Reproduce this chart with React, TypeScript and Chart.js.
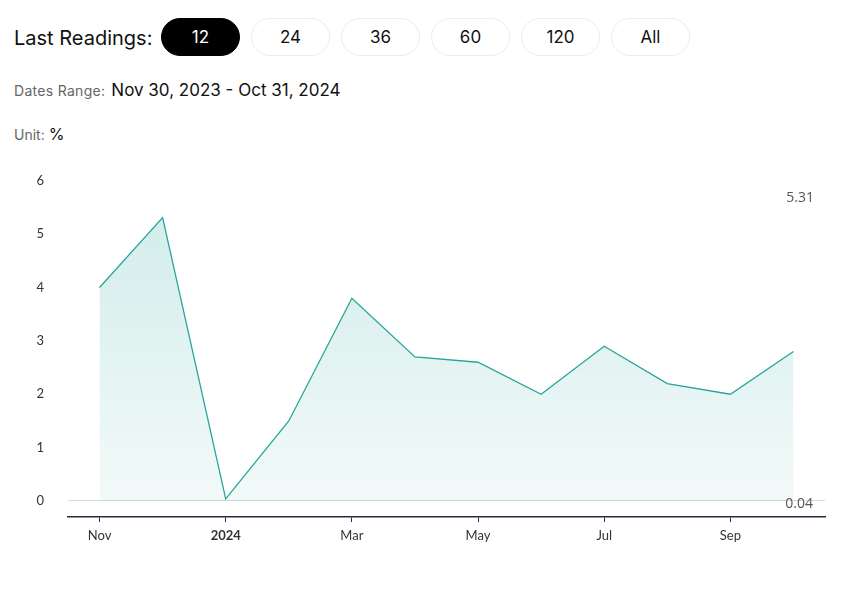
import React, { useEffect, useRef } from "react";
import { Chart, registerables } from "chart.js";

Chart.register(...registerables);

const categories = ["Nov", "Dec", "2024", "Feb", "Mar", "Apr", "May", "Jun", "Jul", "Aug", "Sep", "Oct"];
const values = [4.0, 5.31, 0.04, 1.5, 3.8, 2.7, 2.6, 2.0, 2.9, 2.2, 2.0, 2.8];
const yTicks = [0, 1, 2, 3, 4, 5, 6];
const buttons = ["12", "24", "36", "60", "120", "All"];
const maxLabel = "5.31";
const minLabel = "0.04";

const TEAL = "rgb(38,166,154)";

const extremesPlugin = {
  id: "extremes",
  afterDatasetsDraw(chart: any) {
    const { ctx, chartArea, scales } = chart;
    const y = scales.y;
    const minVal = Math.min(...values);
    ctx.save();
    ctx.font = "14px 'Open Sans'";
    ctx.fillStyle = "#555";
    ctx.textAlign = "right";
    ctx.textBaseline = "middle";
    ctx.fillText(maxLabel, chartArea.right - 11, chartArea.top + 17);
    ctx.fillText(minLabel, chartArea.right - 12, y.getPixelForValue(minVal) + 5);
    ctx.restore();
  },
};

export default function App() {
  const ref = useRef<HTMLCanvasElement>(null);

  useEffect(() => {
    if (!ref.current) return;
    const chart = new Chart(ref.current, {
      type: "line",
      data: {
        labels: categories,
        datasets: [
          {
            data: values,
            borderColor: TEAL,
            borderWidth: 1.3,
            pointRadius: 0,
            tension: 0,
            fill: "origin",
            backgroundColor: (c: any) => {
              const area = c.chart.chartArea;
              if (!area) return "rgba(38,166,154,0.15)";
              const g = c.chart.ctx.createLinearGradient(0, area.top, 0, area.bottom);
              g.addColorStop(0, "rgba(38,166,154,0.22)");
              g.addColorStop(1, "rgba(38,166,154,0.05)");
              return g;
            },
          },
        ],
      },
      options: {
        responsive: false,
        animation: false,
        layout: { padding: { top: 0, right: 13, left: 0, bottom: 0 } },
        plugins: { legend: { display: false }, tooltip: { enabled: false } },
        scales: {
          x: {
            type: "category",
            offset: true,
            border: { display: true, color: "#2b2b40", width: 1.5 },
            grid: {
              drawOnChartArea: false,
              drawTicks: true,
              tickLength: 5,
              tickColor: (c: any) => (c.index % 2 === 0 ? "#2b2b40" : "rgba(0,0,0,0)"),
            },
            ticks: {
              autoSkip: false,
              maxRotation: 0,
              padding: 6,
              color: "#333",
              font: (c: any) =>
                c.tick && c.tick.label === "2024"
                  ? { family: "Lato", size: 13, weight: "bold" }
                  : { family: "Lato", size: 13 },
              callback: (_v: any, i: number) => (i % 2 === 0 ? categories[i] : ""),
            },
            afterFit: (axis: any) => {
              axis.height = 48;
            },
          },
          y: {
            min: -0.3,
            max: 6,
            border: { display: false },
            grid: {
              drawTicks: false,
              color: (c: any) => (c.tick && c.tick.value === 0 ? "#d9d9d9" : "rgba(0,0,0,0)"),
            },
            ticks: {
              padding: 24,
              color: "#333",
              font: { family: "Lato", size: 13 },
            },
            afterBuildTicks: (axis: any) => {
              axis.ticks = yTicks.map((v) => ({ value: v }));
            },
            afterFit: (axis: any) => {
              axis.width = 60;
            },
          },
        },
      },
      plugins: [extremesPlugin],
    } as any);
    return () => chart.destroy();
  }, []);

  const font = "Inter, 'Noto Sans', sans-serif";

  return (
    <div style={{ position: "relative", width: 834, height: 580, fontFamily: font }}>
      <div style={{ position: "absolute", left: 6, top: 15, fontSize: 20, color: "#111", lineHeight: "30px" }}>
        Last Readings:
      </div>
      {buttons.map((b, i) => (
        <div
          key={b}
          style={{
            position: "absolute",
            left: 153 + i * 90,
            top: 10,
            width: 79,
            height: 38,
            boxSizing: "border-box",
            borderRadius: 19,
            border: i === 0 ? "1px solid #000" : "1px solid #ececec",
            background: i === 0 ? "#000" : "#fff",
            color: i === 0 ? "#fff" : "#111",
            fontSize: 17,
            display: "flex",
            alignItems: "center",
            justifyContent: "center",
          }}
        >
          {b}
        </div>
      ))}
      <div style={{ position: "absolute", left: 6, top: 71, lineHeight: "22px", whiteSpace: "nowrap" }}>
        <span style={{ fontSize: 14, color: "#666", letterSpacing: 0.3 }}>Dates Range:</span>
        <span style={{ fontSize: 17, color: "#111", marginLeft: 6 }}>Nov 30, 2023 - Oct 31, 2024</span>
      </div>
      <div style={{ position: "absolute", left: 6, top: 115, lineHeight: "22px", whiteSpace: "nowrap" }}>
        <span style={{ fontSize: 14, color: "#666" }}>Unit: </span>
        <span style={{ fontSize: 16, color: "#111" }}>%</span>
      </div>
      <canvas
        ref={ref}
        width={830}
        height={416}
        style={{ position: "absolute", left: 0, top: 141, width: 830, height: 416 }}
      />
    </div>
  );
}
